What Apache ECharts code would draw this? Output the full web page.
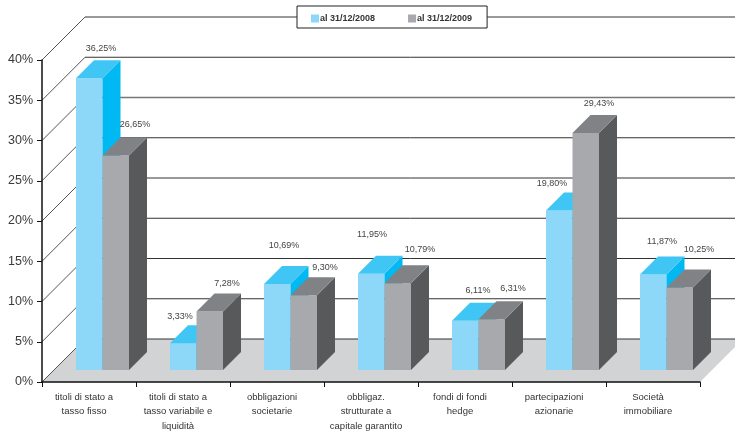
<!DOCTYPE html>
<html><head><meta charset="utf-8">
<style>html,body{margin:0;padding:0;background:#fff}#c{width:735px;height:431px}</style>
<script src="https://cdn.jsdelivr.net/npm/echarts@6/dist/echarts.min.js"></script>
</head><body><div id="c"></div>
<script>
const categories = ["titoli di stato a\ntasso fisso","titoli di stato a\ntasso variabile e\nliquidità","obbligazioni\nsocietarie","obbligaz.\nstrutturate a\ncapitale garantito","fondi di fondi\nhedge","partecipazioni\nazionarie","Società\nimmobiliare"];
const values2008 = [36.25,3.33,10.69,11.95,6.11,19.80,11.87];
const values2009 = [26.65,7.28,9.30,10.79,6.31,29.43,10.25];
const seriesNames = ["al 31/12/2008","al 31/12/2009"];
const yTicks = [0,5,10,15,20,25,30,35,40];

// drawing style and layout, kept apart from the data
const labelOffsets2008 = [[12,-42],[-3,-39],[7,-50],[1,-51],[13,-42],[-7,-39],[9,-45]];
const labelOffsets2009 = [[46,-42.5],[44,-40],[48,-40],[49,-46],[48,-43],[40,-42],[46,-50]];
const WALL = 43, DEPTH = 18, LIFT = 12, SHIFT = 13.5, BAR = 26.5;
const blue = {front:'#8DD8F8', top:'#3FC6F4', side:'#00B9F2'};
const gray = {front:'#A7A9AC', top:'#808285', side:'#58595B'};
const fmt = v => v.toFixed(2).replace('.', ',') + '%';
const poly = (points, fill) => ({type:'polygon', shape:{points}, style:{fill, stroke:null}});

function barSeries(idx, name, values, colors, offsets){
  return {
    name, type:'custom', z:5, clip:false, silent:true,
    itemStyle:{color:colors.front},
    encode:{x:0,y:1},
    data: values.map((v,i)=>[i,v]),
    renderItem(params, api){
      const i = api.value(0), v = api.value(1);
      const p = api.coord([i,v]), b = api.coord([i,0]);
      const c = p[0] + SHIFT;
      const x0 = idx === 0 ? c - BAR : c, x1 = x0 + BAR;
      const yt = p[1] - LIFT, yb = b[1] - LIFT;
      const o = offsets[i];
      return {type:'group', children:[
        poly([[x0,yt],[x1,yt],[x1,yb],[x0,yb]], colors.front),
        poly([[x1,yt],[x1+DEPTH,yt-DEPTH],[x1+DEPTH,yb-DEPTH],[x1,yb]], colors.side),
        poly([[x0,yt],[x0+DEPTH,yt-DEPTH],[x1+DEPTH,yt-DEPTH],[x1,yt]], colors.top),
        {type:'text', z2:20, style:{x:p[0]+o[0], y:p[1]+o[1], text:fmt(v), fill:'#444',
          font:'9px "Liberation Sans"', textAlign:'center', textVerticalAlign:'middle'}}
      ]};
    }
  };
}

const floorSeries = {
  type:'custom', z:1, clip:false, silent:true, encode:{x:0,y:1}, data:[[0,0]],
  renderItem(params, api){
    const cs = params.coordSys, y = api.coord([0,0])[1];
    const xl = cs.x, xr = cs.x + cs.width;
    return poly([[xl,y],[xl+WALL,y-WALL],[xr+WALL,y-WALL],[xr,y]], '#D1D3D4');
  }
};
const wallSeries = {
  type:'custom', z:2, clip:false, silent:true, encode:{x:0,y:1}, data: yTicks.map(v=>[0,v]),
  renderItem(params, api){
    const cs = params.coordSys, v = api.value(1), y = api.coord([0,v])[1];
    const xl = cs.x, xr = cs.x + cs.width;
    const soft = v === 40 || v === 30;
    const line = {stroke: soft ? '#777' : '#333', lineWidth: soft ? 1.5 : 1, fill:null};
    return {type:'group', children:[
      {type:'polyline', shape:{points:[[xl,y],[xl+WALL,y-WALL]]}, style:{stroke:'#555', lineWidth:1, fill:null}},
      {type:'polyline', shape:{points:[[xl+WALL,y-WALL],[xr+WALL,y-WALL]]}, style:line}
    ]};
  }
};

const chart = echarts.init(document.getElementById('c'), null, {renderer:'canvas'});
chart.setOption({
  animation:false,
  backgroundColor:'#fff',
  grid:{left:42, top:60, width:658, height:322, containLabel:false, outerBoundsMode:'none'},
  legend:{
    left:297, top:6, padding:[8,15,5,14], itemGap:33, itemWidth:8, itemHeight:8, z:20,
    icon:'rect', backgroundColor:'#fff', borderColor:'#222', borderWidth:1,
    data:seriesNames, selectedMode:false,
    textStyle:{fontFamily:'"Liberation Sans"', fontSize:9, fontWeight:'bold', color:'#333', padding:[0,0,0,-4]}
  },
  xAxis:{
    type:'category', data:categories, boundaryGap:true, z:6,
    axisLine:{lineStyle:{color:'#111', width:1.5}},
    axisTick:{show:true, alignWithLabel:false, length:5, lineStyle:{color:'#111', width:1}},
    axisLabel:{interval:0, margin:8, fontFamily:'"Liberation Sans"', fontSize:9.5, lineHeight:14.5, color:'#333', padding:[0,10,0,0]}
  },
  yAxis:{
    type:'value', min:0, max:40, interval:5, z:6,
    axisLine:{show:true, lineStyle:{color:'#111', width:1.5}},
    axisTick:{show:true, length:5, lineStyle:{color:'#111', width:1}},
    splitLine:{show:false},
    axisLabel:{formatter:'{value}%', margin:9, fontFamily:'"Liberation Sans"', fontSize:12.5, color:'#3a3a3a'}
  },
  series:[floorSeries, wallSeries,
    barSeries(0, seriesNames[0], values2008, blue, labelOffsets2008),
    barSeries(1, seriesNames[1], values2009, gray, labelOffsets2009)]
});
</script></body></html>
